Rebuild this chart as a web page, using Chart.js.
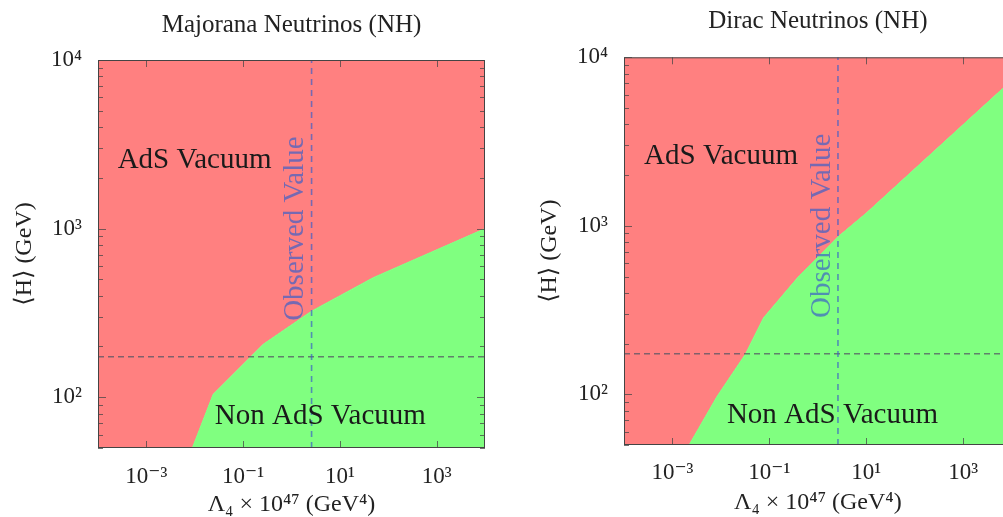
<!DOCTYPE html>
<html>
<head>
<meta charset="utf-8">
<script src="https://cdn.jsdelivr.net/npm/chart.js@4.4.1/dist/chart.umd.min.js"></script>
<style>
  html, body { margin: 0; padding: 0; background: #fff; overflow: hidden; width: 1003px; height: 517px; }
  #majorana { position: absolute; left: 0; top: 0; }
  #dirac { position: absolute; left: 500px; top: 0; }
</style>
</head>
<body>
<canvas id="majorana" width="500" height="517"></canvas>
<canvas id="dirac" width="530" height="517"></canvas>
<script>
// AdS / non-AdS boundary (Lambda4 x 1e47 in GeV^4, <H> in GeV)
const majoranaLambda = [1e-4, 0.0089, 0.024, 0.26, 2.6, 49, 1e4];
const majoranaHiggs  = [50, 50, 104, 206, 324, 512, 1000];

const diracLambda = [1e-4, 0.0022, 0.0083, 0.032, 0.076, 0.40, 2.6, 10, 1e4];
const diracHiggs  = [50, 50, 97, 173, 285, 500, 860, 1190, 7300];

const observedLambda = 2.6;
const higgsLine = 174;

const xTickValues = [1e-3, 1e-1, 1e1, 1e3];
const xTickLabels = ["10⁻³", "10⁻¹", "10¹", "10³"];
const yTickValues = [1e2, 1e3, 1e4];
const yTickLabels = ["10²", "10³", "10⁴"];

const FONT = "'Liberation Serif', 'DejaVu Serif', serif";
const RED = "#ff8080";
const GREEN = "#80ff80";
const OBS_COLOR = "rgba(60,95,200,0.7)";

// frame, inward tick marks and region labels
const framePlugin = {
    id: "frame",
    afterDatasetsDraw(chart, _args, opts) {
        const { ctx, chartArea: a, scales: { x, y } } = chart;
        ctx.save();
        ctx.lineWidth = 1;
        ctx.strokeStyle = "rgba(70,70,70,0.75)";
        ctx.beginPath();
        for (let n = 1; n <= 4; n++) {
            for (let k = 1; k <= 9; k++) {
                const v = k * Math.pow(10, n);
                if (v < y.min || v > y.max) continue;
                const py = Math.round(y.getPixelForValue(v)) + 0.5;
                const len = k === 1 ? 8 : 5;
                ctx.moveTo(a.left, py); ctx.lineTo(a.left + len, py);
                ctx.moveTo(a.right, py); ctx.lineTo(a.right - len, py);
            }
        }
        xTickValues.forEach(v => {
            const px = Math.round(x.getPixelForValue(v)) + 0.5;
            ctx.moveTo(px, a.bottom); ctx.lineTo(px, a.bottom - 7);
            ctx.moveTo(px, a.top); ctx.lineTo(px, a.top + 7);
        });
        ctx.stroke();

        ctx.strokeStyle = "#444";
        ctx.strokeRect(a.left + 0.5, a.top + 0.5, a.right - a.left - 1, a.bottom - a.top - 1);

        ctx.fillStyle = "#1a1a1a";
        ctx.font = `29px ${FONT}`;
        ctx.textAlign = "left";
        ctx.textBaseline = "middle";
        (opts.labels || []).forEach(l => {
            ctx.fillText(l.text, x.getPixelForValue(l.x), y.getPixelForValue(l.y));
        });

        const ox = x.getPixelForValue(observedLambda) - 16;
        const oy = y.getPixelForValue(1000);
        ctx.translate(ox, oy);
        ctx.rotate(-Math.PI / 2);
        ctx.textAlign = "center";
        ctx.fillStyle = OBS_COLOR;
        ctx.fillText("Observed Value", 0, 0);
        ctx.restore();
    }
};

function buildChart(id, title, lambda, higgs, lay) {
    const boundary = lambda.map((v, i) => ({ x: v, y: higgs[i] }));
    const tickFont = { family: FONT, size: 23 };
    return new Chart(document.getElementById(id), {
        type: "line",
        data: {
            datasets: [
                {
                    data: [{ x: observedLambda, y: 50 }, { x: observedLambda, y: 1e4 }],
                    borderColor: OBS_COLOR, borderDash: [6, 5], borderWidth: 1.6,
                    pointRadius: 0, fill: false,
                },
                {
                    data: [{ x: 1e-4, y: higgsLine }, { x: 1e4, y: higgsLine }],
                    borderColor: "rgba(85,85,100,0.75)", borderDash: [6, 4], borderWidth: 1.4,
                    pointRadius: 0, fill: false,
                },
                {
                    data: boundary, fill: "start", backgroundColor: GREEN,
                    borderColor: GREEN, borderWidth: 1, pointRadius: 0, tension: 0,
                },
                {
                    data: boundary, fill: "end", backgroundColor: RED,
                    borderWidth: 0, pointRadius: 0, tension: 0,
                },
            ]
        },
        options: {
            responsive: false, animation: false,
            layout: { padding: { left: 0, right: lay.padRight, top: 0, bottom: 0 } },
            plugins: {
                legend: { display: false },
                tooltip: { enabled: false },
                title: {
                    display: true, text: title, fullSize: false, color: "#222",
                    font: { family: FONT, size: 25, weight: "normal", lineHeight: 1.2 },
                    padding: { top: lay.titleTop, bottom: lay.titleBottom },
                },
                frame: { labels: lay.labels },
            },
            scales: {
                x: {
                    type: "logarithmic", min: 1e-4, max: 1e4,
                    grid: { display: false }, border: { display: false },
                    afterBuildTicks: s => { s.ticks = xTickValues.map(v => ({ value: v })); },
                    afterFit: s => { s.height = lay.xHeight; },
                    ticks: {
                        callback: (_v, i) => xTickLabels[i], font: tickFont, color: "#222",
                        padding: lay.xTickPad, maxRotation: 0, autoSkip: false,
                    },
                    title: {
                        display: true, text: "Λ₄ × 10⁴⁷ (GeV⁴)", color: "#222",
                        font: { family: FONT, size: 24, lineHeight: 1 },
                        padding: { top: 0, bottom: lay.xTitlePad },
                    },
                },
                y: {
                    type: "logarithmic", min: 50, max: 1e4,
                    grid: { display: false }, border: { display: false },
                    afterBuildTicks: s => { s.ticks = yTickValues.map(v => ({ value: v })); },
                    afterFit: s => { s.width = lay.yWidth; },
                    ticks: {
                        callback: (_v, i) => yTickLabels[i], font: tickFont, color: "#222",
                        padding: 8, autoSkip: false,
                    },
                    title: {
                        display: true, text: "⟨H⟩ (GeV)", color: "#222",
                        font: { family: FONT, size: 24, lineHeight: 1.2 },
                        padding: { top: lay.yTitlePad, bottom: 0 },
                    },
                },
            },
        },
        plugins: [framePlugin],
    });
}

buildChart("majorana", "Majorana Neutrinos (NH)", majoranaLambda, majoranaHiggs, {
    padRight: 15, yWidth: 98, xHeight: 69, titleTop: 10, titleBottom: 20,
    xTickPad: 7, xTitlePad: 0, yTitlePad: 10.6,
    labels: [
        { text: "AdS Vacuum", x: 2.55e-4, y: 2547 },
        { text: "Non AdS Vacuum", x: 0.026, y: 77 },
    ],
});

buildChart("dirac", "Dirac Neutrinos (NH)", diracLambda, diracHiggs, {
    padRight: 18.3, yWidth: 124, xHeight: 72, titleTop: 6.7, titleBottom: 20.6,
    xTickPad: 6.5, xTitlePad: 2, yTitlePad: 35.6,
    labels: [
        { text: "AdS Vacuum", x: 2.6e-4, y: 2570 },
        { text: "Non AdS Vacuum", x: 0.0133, y: 75 },
    ],
});
</script>
</body>
</html>
